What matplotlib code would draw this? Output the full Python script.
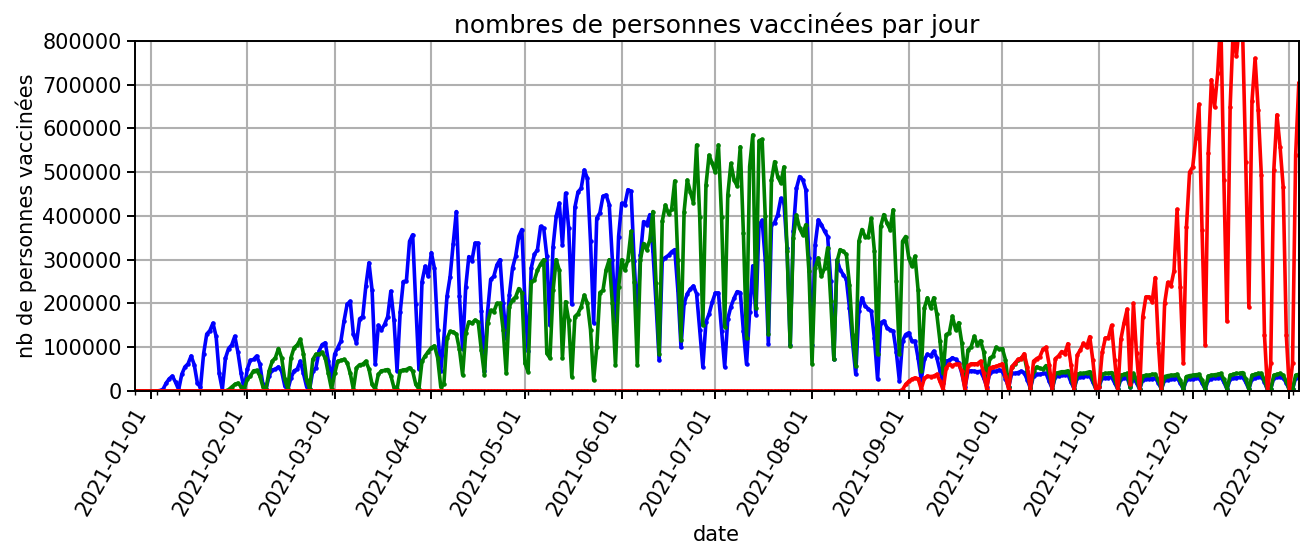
#!/usr/bin/env python
# -*- coding: utf-8 -*-
# Nombre de personnes vaccinees par jour (dose 1 / dose 2 / rappel)

import pandas as pd
import matplotlib
matplotlib.use("Agg")
from matplotlib import pyplot as plt
import matplotlib.dates as mdates
from matplotlib.ticker import FuncFormatter

#-----------------------------------------------------------------------------------------
#                                        DATA
#-----------------------------------------------------------------------------------------
start_date = "2020-12-27"   # first day of the series (a Sunday)

# values in thousands, one line per week (Sun -> Sat)
dose1 = [
    0, 0, 0, 0, 0, 0, 0,
    0, 1, 4, 18, 28, 34, 20,
    3, 38, 55, 62, 80, 60, 18,
    8, 85, 130, 138, 155, 125, 40,
    3, 75, 97, 105, 125, 88, 40,
    3, 50, 70, 72, 80, 62, 15,
    4, 35, 48, 50, 55, 45, 12,
    3, 30, 46, 50, 68, 40, 10,
    5, 46, 53, 91, 106, 110, 68,
    25, 84, 99, 114, 160, 198, 205,
    130, 110, 165, 170, 240, 293, 230,
    61, 150, 140, 152, 170, 228, 163,
    46, 180, 250, 252, 342, 357, 198,
    50, 250, 285, 262, 316, 280, 139,
    45, 120, 216, 261, 337, 410, 216,
    95, 237, 307, 298, 338, 338, 183,
    46, 180, 255, 262, 288, 300, 200,
    120, 220, 281, 308, 353, 369, 200,
    91, 281, 312, 323, 376, 372, 308,
    150, 330, 399, 429, 334, 452, 372,
    198, 420, 455, 463, 505, 486, 342,
    156, 395, 407, 445, 448, 426, 300,
    160, 353, 429, 426, 460, 456, 296,
    160, 310, 387, 380, 403, 320, 200,
    70, 300, 305, 310, 318, 323, 230,
    100, 200, 222, 233, 240, 222, 140,
    55, 158, 176, 203, 224, 224, 138,
    55, 165, 193, 212, 227, 225, 138,
    61, 180, 286, 174, 379, 390, 300,
    108, 379, 385, 403, 440, 430, 326,
    104, 365, 463, 490, 483, 460, 304,
    106, 334, 391, 380, 365, 353, 251,
    72, 300, 277, 266, 255, 190, 110,
    38, 182, 213, 194, 188, 182, 120,
    27, 156, 160, 145, 140, 137, 90,
    23, 114, 129, 133, 114, 114, 75,
    25, 72, 84, 80, 91, 76, 46,
    19, 68, 70, 76, 72, 65, 40,
    8, 45, 46, 45, 44, 45, 30,
    10, 42, 45, 45, 48, 45, 28,
    8, 40, 40, 42, 45, 42, 25,
    6, 35, 38, 38, 40, 40, 22,
    5, 33, 35, 36, 36, 38, 20,
    5, 30, 33, 33, 34, 35, 20,
    4, 10, 30, 30, 30, 32, 18,
    4, 28, 30, 30, 8, 30, 18,
    4, 26, 28, 28, 28, 30, 18,
    4, 25, 26, 27, 28, 30, 18,
    4, 25, 27, 28, 29, 30, 18,
    4, 26, 28, 29, 30, 32, 20,
    4, 27, 30, 30, 31, 32, 20,
    4, 28, 30, 32, 33, 20, 2,
    4, 30, 32, 33, 30, 18, 2,
    4, 30, 32,
]

dose2 = [
    0, 0, 0, 0, 0, 0, 0,
    0, 0, 0, 0, 0, 0, 0,
    0, 0, 0, 0, 0, 0, 0,
    0, 0, 0, 0, 0, 0, 0,
    0, 0, 3, 9, 15, 18, 10,
    4, 27, 34, 46, 47, 35, 10,
    4, 46, 68, 76, 97, 76, 27,
    4, 76, 99, 105, 118, 85, 25,
    4, 72, 84, 84, 88, 75, 40,
    4, 40, 68, 70, 72, 65, 40,
    4, 53, 60, 61, 68, 50, 15,
    4, 38, 46, 47, 49, 35, 8,
    4, 46, 48, 49, 53, 45, 15,
    4, 68, 80, 90, 99, 103, 76,
    10, 15, 120, 136, 135, 130, 95,
    37, 132, 158, 155, 162, 158, 94,
    37, 155, 184, 181, 200, 200, 140,
    40, 193, 208, 215, 234, 225, 63,
    44, 250, 253, 276, 290, 300, 86,
    75, 230, 300, 276, 75, 204, 162,
    33, 170, 177, 192, 219, 200, 140,
    25, 100, 225, 230, 277, 300, 200,
    60, 237, 300, 276, 300, 365, 250,
    59, 300, 337, 323, 345, 410, 246,
    84, 388, 425, 405, 415, 480, 300,
    117, 410, 482, 455, 430, 562, 398,
    150, 470, 539, 520, 500, 562, 398,
    147, 448, 520, 483, 468, 558, 360,
    120, 513, 585, 190, 572, 575, 400,
    130, 482, 524, 490, 475, 512, 320,
    102, 350, 402, 372, 357, 380, 274,
    62, 281, 304, 262, 281, 327, 205,
    72, 296, 323, 319, 312, 243, 129,
    57, 342, 369, 353, 353, 395, 319,
    84, 376, 403, 384, 369, 414, 251,
    84, 342, 353, 304, 285, 308, 230,
    46, 190, 213, 190, 213, 175, 114,
    40, 129, 133, 171, 140, 156, 110,
    35, 94, 101, 125, 105, 115, 90,
    30, 75, 80, 100, 95, 97, 71,
    10, 55, 62, 70, 75, 80, 45,
    6, 45, 55, 52, 50, 58, 40,
    5, 40, 42, 44, 44, 46, 30,
    5, 38, 40, 40, 42, 44, 28,
    4, 12, 38, 40, 40, 42, 28,
    4, 36, 38, 40, 8, 40, 26,
    4, 34, 36, 36, 38, 38, 25,
    4, 33, 35, 36, 36, 38, 25,
    4, 33, 35, 36, 37, 38, 25,
    4, 34, 36, 37, 38, 40, 27,
    4, 36, 38, 40, 40, 42, 28,
    4, 36, 38, 40, 40, 25, 2,
    4, 36, 38, 40, 36, 22, 2,
    4, 36, 38,
]

# rappel : nothing before the end of August
dose3_start = [0] * 245
dose3_rest = [
    0, 3, 15, 22, 27, 30, 28,
    4, 29, 34, 33, 34, 38, 22,
    3, 53, 61, 58, 61, 61, 45,
    3, 58, 62, 62, 62, 68, 40,
    4, 52, 55, 56, 59, 62, 35,
    4, 55, 63, 72, 74, 85, 55,
    3, 68, 74, 78, 95, 100, 60,
    0, 74, 80, 90, 85, 108, 60,
    0, 82, 94, 109, 100, 124, 70,
    0, 10, 88, 121, 122, 150, 70,
    0, 119, 156, 187, 15, 200, 86,
    0, 170, 215, 215, 204, 259, 109,
    0, 200, 248, 240, 274, 415, 237,
    63, 375, 500, 512, 577, 655, 367,
    105, 543, 711, 649, 726, 850, 482,
    159, 649, 830, 765, 840, 820, 524,
    192, 662, 760, 642, 493, 128, 0,
    63, 505, 631, 558, 467, 128, 0,
    63, 539, 703,
]
dose3 = dose3_start + dose3_rest


#-----------------------------------------------------------------------------------------
#                                     MAIN FUNCTION
#-----------------------------------------------------------------------------------------
def main():
    plt.rcParams['font.size'] = 15
    dates = pd.date_range(start_date, periods=len(dose1), freq="D")
    df = pd.DataFrame({'dose1': dose1, 'dose2': dose2, 'dose3': dose3}, index=dates) * 1000
    df['dose4'] = 0

    fig, ax = plt.subplots(figsize=(13.04, 5.53), dpi=100)
    fig.subplots_adjust(left=0.1035, right=0.996, top=0.926, bottom=0.293)

    ax.plot(df.index, df['dose1'], '.-', color='blue', lw=2.6, ms=4.5)
    ax.plot(df.index, df['dose2'], '.-', color='green', lw=2.6, ms=4.5)
    ax.plot(df.index, df['dose3'], '.-', color='red', lw=2.6, ms=4.5)
    ax.plot(df.index, df['dose4'], '.-', color='darkred', lw=1.2, ms=2)

    ax.set_xlim(df.index[0], df.index[-1])
    ax.set_ylim(0, 800000)
    ax.set_yticks(range(0, 800001, 100000))
    ax.yaxis.set_major_formatter(FuncFormatter(lambda v, p: "%d" % v))

    ax.xaxis.set_major_locator(mdates.MonthLocator())
    ax.xaxis.set_major_formatter(mdates.DateFormatter('%Y-%m-%d'))
    ax.xaxis.set_minor_locator(mdates.WeekdayLocator(byweekday=mdates.SU))
    plt.setp(ax.get_xticklabels(), rotation=60, ha='right')
    ax.tick_params(which='major', length=6, width=1.4)
    ax.tick_params(which='minor', length=3, width=1)

    ax.grid(True, which='major', color='#b0b0b0', lw=1.5)
    for s in ax.spines.values():
        s.set_linewidth(1.4)

    ax.set_title("nombres de personnes vaccinées par jour")
    ax.set_xlabel("date")
    ax.set_ylabel("nb de personnes vaccinées")

    fig.savefig("out.png", dpi=100)


if __name__ == '__main__':
    main()
